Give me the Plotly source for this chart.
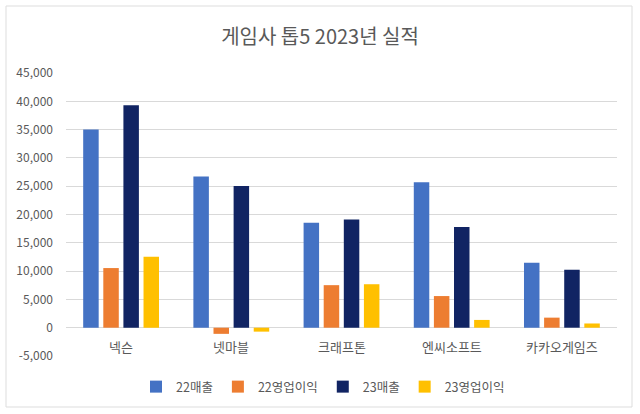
#!/usr/bin/env python3
# -*- coding: utf-8 -*-

import plotly.graph_objects as go

# 데이터 (단위: 억원)
companies = ['넥슨', '넷마블', '크래프톤', '엔씨소프트', '카카오게임즈']
sales_22 = [35000, 26734, 18540, 25718, 11477]
op_22 = [10537, -1087, 7516, 5590, 1777]
sales_23 = [39323, 25014, 19106, 17798, 10241]
op_23 = [12516, -696, 7680, 1373, 745]

series_names = ['22매출', '22영업이익', '23매출', '23영업이익']
series_values = [sales_22, op_22, sales_23, op_23]
series_colors = ['#4472C4', '#ED7D31', '#112463', '#FFC000']

y_ticks = list(range(-5000, 45001, 5000))
y_tick_labels = [f"{v:,}" for v in y_ticks]

title_text = '게임사 톱5 2023년 실적'

FONT = 'Noto Sans CJK KR, Noto Sans, sans-serif'
GREY = '#595959'


def build_figure():
    fig = go.Figure()

    # 시리즈별 막대
    for name, values, color in zip(series_names, series_values, series_colors):
        fig.add_trace(go.Bar(
            x=companies,
            y=values,
            name=name,
            marker=dict(color=color, line=dict(width=0)),
        ))

    fig.update_layout(
        width=640,
        height=414,
        barmode='group',
        bargap=0.27,
        bargroupgap=0.23,
        paper_bgcolor='white',
        plot_bgcolor='white',
        margin=dict(l=66, r=23, t=73, b=58, autoexpand=False),
        font=dict(family=FONT, color=GREY, size=12),
        title=dict(
            text=title_text,
            x=0.5, xref='container', xanchor='center',
            y=1 - 37 / 414, yref='container', yanchor='middle',
            font=dict(family=FONT, size=20, color=GREY),
        ),
        legend=dict(
            orientation='h',
            x=323 / 640, xref='container', xanchor='center',
            y=1 - 387 / 414, yref='container', yanchor='middle',
            font=dict(size=12.5, color=GREY),
            itemwidth=30,
            traceorder='normal',
        ),
        showlegend=True,
    )

    # 카테고리 라벨은 축 대신 -5,000 선 바로 위에 주석으로
    fig.update_xaxes(
        showgrid=False,
        showline=False,
        ticks='',
        showticklabels=False,
        automargin=False,
    )
    for name in companies:
        fig.add_annotation(
            x=name, xref='x',
            y=-5000, yref='y', yanchor='bottom',
            yshift=-2,
            text=name,
            showarrow=False,
            font=dict(size=13, color=GREY),
        )

    fig.update_yaxes(
        range=[-5000, 45000],
        tickvals=y_ticks,
        ticktext=y_tick_labels,
        showgrid=True,
        gridcolor='#D9D9D9',
        gridwidth=1,
        zeroline=True,
        zerolinecolor='#D9D9D9',
        zerolinewidth=1,
        showline=False,
        ticks='',
        automargin=False,
        ticklabelstandoff=12,
        tickfont=dict(size=12, color=GREY),
    )

    # 차트 영역 테두리
    fig.add_shape(
        type='rect',
        xref='paper', yref='paper',
        x0=(6 - 66) / 551, x1=(632 - 66) / 551,
        y0=(356 - 407) / 283, y1=(356 - 6) / 283,
        line=dict(color='#DDDDDD', width=1),
        fillcolor='rgba(0,0,0,0)',
        layer='below',
    )

    return fig


def main():
    fig = build_figure()
    # body 기본 여백 제거, 모드바 숨김
    fig.write_html(
        "out.html",
        config={'displayModeBar': False},
        post_script="document.body.style.margin='0';",
    )


if __name__ == '__main__':
    main()
